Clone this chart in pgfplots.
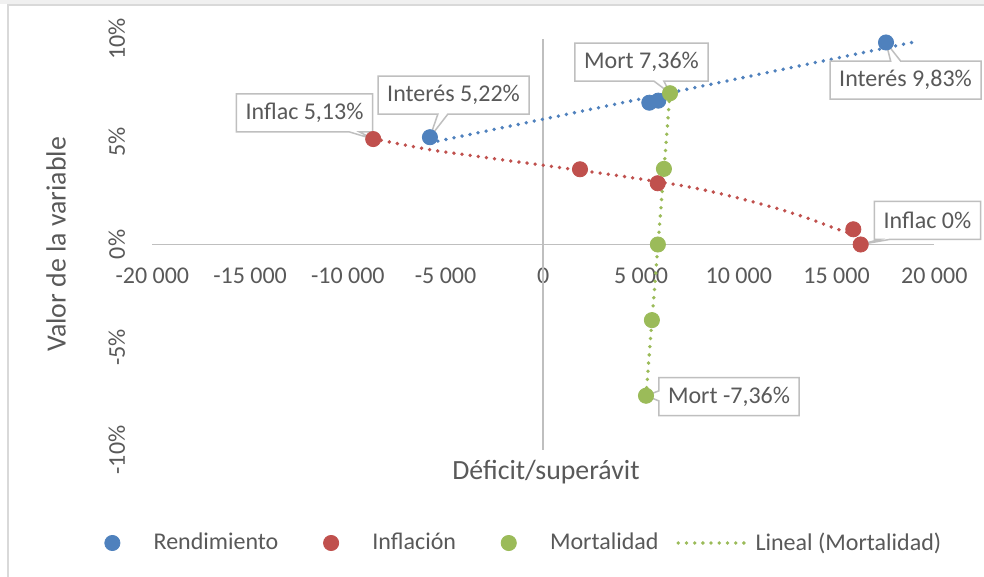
\documentclass[border=0pt]{standalone}
\usepackage{fontspec}
\setmainfont{Carlito}
\usepackage{pgfplots}
\pgfplotsset{compat=1.18}
\usetikzlibrary{shapes.callouts}
\definecolor{cblue}{HTML}{4F81BD}
\definecolor{cred}{HTML}{C0504D}
\definecolor{cgreen}{HTML}{9BBB59}
\definecolor{ctext}{HTML}{595959}
\definecolor{caxis}{HTML}{BFBFBF}
\definecolor{cframe}{HTML}{D9D9D9}
\newcommand{\lblfont}{\fontsize{12}{14}\selectfont}
\newcommand{\ttlfont}{\fontsize{13.9}{16}\selectfont}
\tikzset{
  lbl/.style={rectangle callout, draw=caxis, fill=white, line width=0.75pt,
    text=ctext, font=\lblfont, inner xsep=4.6pt, inner ysep=0pt,
    minimum height=19pt, callout pointer width=5pt},
  trend/.style={dash pattern=on 0pt off 4.1pt, line cap=round, line width=1.9pt}
}
\begin{document}
\begin{tikzpicture}
\path[use as bounding box] (0,0) rectangle (492pt,288.5pt);
\fill[white] (0,0) rectangle (492pt,288.5pt);
\fill[black!6] (0,286.5pt) rectangle (492pt,288.5pt);
\draw[cframe, line width=0.8pt] (4pt,0) -- (4pt,286pt) -- (492pt,286pt);
\begin{axis}[
  at={(76.15pt,63.5pt)}, anchor=south west,
  scale only axis, width=391pt, height=205.5pt,
  xmin=-20000, xmax=20000, ymin=-10, ymax=10,
  clip=false,
  scaled x ticks=false, scaled y ticks=false,
  axis line style={draw=none},
  major tick length=0pt,
  xtick={-20000,-15000,-10000,-5000,0,5000,10000,15000,20000},
  xticklabels={-20 000,-15 000,-10 000,-5 000,0,5 000,10 000,15 000,20 000},
  ytick={-10,-5,0,5,10},
  yticklabels={-10\%,-5\%,0\%,5\%,10\%},
  ticklabel style={font=\lblfont, text=ctext},
  xticklabel style={anchor=base, yshift=83.3pt},
  yticklabel style={rotate=90, anchor=base},
  yticklabel shift=13.65pt,
  xlabel={Déficit/superávit},
  ylabel={Valor de la variable},
  xlabel style={at={(axis description cs:0.5034,-0.0718)}, anchor=base, font=\ttlfont, text=ctext},
  ylabel style={at={(axis description cs:-0.1107,0.5)}, anchor=base, rotate=0, font=\ttlfont, text=ctext},
  legend columns=4,
  legend style={draw=none, fill=none, inner sep=0pt,
    at={(axis description cs:-0.0962,-0.2263)}, anchor=west,
    font=\lblfont, text=ctext,
    nodes={inner xsep=3.2pt, inner ysep=2pt},
    /tikz/every even column/.append style={column sep=5.7pt}},
  legend image code/.code={\draw[mark repeat=2,mark phase=2,#1] plot coordinates {(0pt,0pt) (17.25pt,0pt) (34.5pt,0pt)};\path (0pt,0pt) (34.5pt,0pt);},
]
% axes through the origin
\draw[caxis, line width=0.9pt] (axis cs:-20000,0) -- (axis cs:20000,0);
\draw[caxis, line width=0.9pt] (axis cs:0,-10) -- (axis cs:0,10);

% Rendimiento
\addplot[cblue, only marks, mark=*, mark size=3.8pt, mark options={draw=cblue, fill=cblue}] table {
x y
-5800 5.22
5422 6.90
5882 7.00
17530 9.83
};
\addlegendentry{Rendimiento}
% Inflación
\addplot[cred, only marks, mark=*, mark size=3.8pt, mark options={draw=cred, fill=cred}] table {
x y
-8700 5.13
1877 3.66
5852 2.98
15857 0.74
16235 0.00
};
\addlegendentry{Inflación}
% Mortalidad
\addplot[cgreen, only marks, mark=*, mark size=3.8pt, mark options={draw=cgreen, fill=cgreen}] table {
x y
6481 7.36
6170 3.68
5860 0.00
5555 -3.68
5253 -7.36
};
\addlegendentry{Mortalidad}
% trendline Mortalidad
\addplot[cgreen, trend] table {
x y
5253 -7.36
6481 7.36
};
\addlegendentry{Lineal (Mortalidad)}
% trendline Rendimiento
\addplot[cblue, trend, forget plot] table {
x y
-5800 4.95
19000 9.86
};
% trendline Inflación
\addplot[cred, trend, forget plot, smooth] table {
x y
-8700 5.146
-5780 4.61
-3734 4.335
-1652 4.063
51 3.85
2235 3.558
3836 3.35
7095 2.864
8762 2.539
10419 2.15
12036 1.733
13621 1.248
15192 0.694
16235 0.41
};

% data labels
\node[lbl, callout absolute pointer={(axis cs:-8700,5.13)}] at (axis cs:-12215,6.40) {Inflac 5,13\%};
\node[lbl, callout absolute pointer={(axis cs:-5800,5.22)}] at (axis cs:-4593,7.27) {Interés 5,22\%};
\node[lbl, callout absolute pointer={(axis cs:6481,7.36)}] at (axis cs:5023,8.88) {Mort 7,36\%};
\node[lbl, callout absolute pointer={(axis cs:17530,9.83)}] at (axis cs:18527,8.00) {Interés 9,83\%};
\node[lbl, callout absolute pointer={(axis cs:16235,0)}] at (axis cs:19652,1.17) {Inflac 0\%};
\node[lbl, callout absolute pointer={(axis cs:5253,-7.36)}] at (axis cs:9499,-7.40) {Mort -7,36\%};
\end{axis}
\end{tikzpicture}
\end{document}
